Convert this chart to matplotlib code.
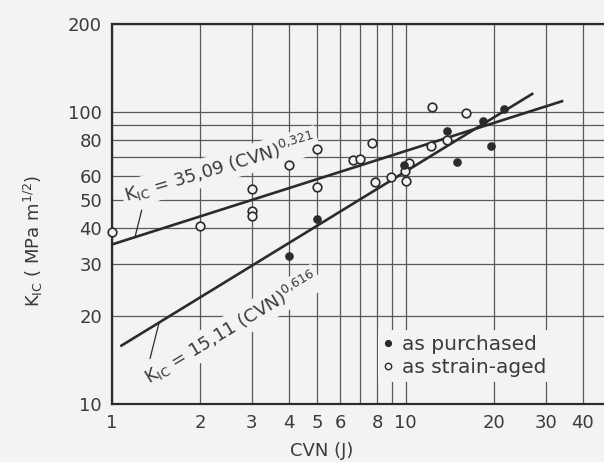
import matplotlib
matplotlib.use("Agg")
import matplotlib.pyplot as plt
from matplotlib.ticker import FixedLocator, NullFormatter, FixedFormatter
from matplotlib.lines import Line2D

# ---------------- data ----------------
purchased_cvn = [4.0, 5.0, 9.85, 13.8, 15.0, 18.3, 19.5, 21.6]
purchased_kic = [32.0, 43.0, 65.8, 86.0, 67.0, 93.0, 76.0, 102.0]

aged_cvn = [1.0, 2.0, 3.0, 3.0, 3.0, 4.0, 5.0, 5.0, 6.6, 7.0, 7.7, 7.9,
            8.9, 9.95, 10.0, 10.3, 12.2, 12.3, 13.8, 16.1]
aged_kic = [38.6, 40.5, 54.4, 45.8, 43.8, 65.4, 74.6, 55.0, 68.4, 69.0, 78.0, 57.6,
            59.7, 62.5, 58.0, 66.6, 76.0, 104.0, 80.0, 99.0]

# fitted straight lines (end points)
fit_aged_cvn = [1.0, 34.4]
fit_aged_kic = [35.09, 108.8]
fit_purch_cvn = [1.07, 27.2]
fit_purch_kic = [15.75, 115.5]

x_ticks = [1, 2, 3, 4, 5, 6, 8, 10, 20, 30, 40]
x_minor = [7, 9]
y_ticks = [10, 20, 30, 40, 50, 60, 80, 100, 200]
y_minor = [70, 90]

eq_aged = r"K$_{\mathregular{IC}}$ = 35,09 (CVN)$^{\mathregular{0{,}321}}$"
eq_purch = r"K$_{\mathregular{IC}}$ = 15,11 (CVN)$^{\mathregular{0{,}616}}$"

# ---------------- style ----------------
BG = "#f3f3f3"
INK = "#2b2b2b"
TXT = "#3a3a3a"
GRID = "#5a5a5a"

plt.rcParams["font.family"] = ["DejaVu Sans"]

fig = plt.figure(figsize=(6.04, 4.62), dpi=100, facecolor=BG)
ax = fig.add_axes([111.7 / 604, 1 - 404 / 462, (611 - 111.7) / 604, (404 - 23.5) / 462])
ax.set_facecolor(BG)
ax.set_xscale("log")
ax.set_yscale("log")
ax.set_xlim(1, 50)
ax.set_ylim(10, 200)

ax.xaxis.set_major_locator(FixedLocator(x_ticks))
ax.xaxis.set_major_formatter(FixedFormatter([str(v) for v in x_ticks]))
ax.xaxis.set_minor_locator(FixedLocator(x_minor))
ax.xaxis.set_minor_formatter(NullFormatter())
ax.yaxis.set_major_locator(FixedLocator(y_ticks))
ax.yaxis.set_major_formatter(FixedFormatter([str(v) for v in y_ticks]))
ax.yaxis.set_minor_locator(FixedLocator(y_minor))
ax.yaxis.set_minor_formatter(NullFormatter())

ax.tick_params(which="both", length=0, labelsize=13, colors=TXT, pad=7)
ax.set_axisbelow(True)
ax.grid(True, which="both", color=GRID, lw=0.9)
for s in ax.spines.values():
    s.set_color(INK)
    s.set_linewidth(1.6)

# fitted lines
ax.plot(fit_aged_cvn, fit_aged_kic, color=INK, lw=1.9, zorder=3, solid_capstyle="butt")
ax.plot(fit_purch_cvn, fit_purch_kic, color=INK, lw=1.9, zorder=3, solid_capstyle="butt")

# data points
ax.plot(aged_cvn, aged_kic, ls="none", marker="o", ms=6.2, mfc=BG, mec=INK, mew=1.2,
        zorder=4, clip_on=False)
ax.plot(purchased_cvn, purchased_kic, ls="none", marker="o", ms=5.2, mfc=INK, mec=INK,
        zorder=4, clip_on=False)

# equations
box = dict(boxstyle="square,pad=0.15", fc=BG, ec="none")
ax.text(1.125, 49.0, eq_aged, rotation=16.5, rotation_mode="anchor", ha="left",
        va="baseline", fontsize=13, color=TXT, bbox=box, zorder=2.5)
ax.text(1.34, 11.6, eq_purch, rotation=31, rotation_mode="anchor", ha="left",
        va="baseline", fontsize=13, color=TXT, bbox=box, zorder=2.5)

# leader lines
ax.annotate("", xy=(1.2, 37.2), xytext=(1.265, 46.0),
            arrowprops=dict(arrowstyle="-", color=INK, lw=0.9, shrinkA=0, shrinkB=0), zorder=3)
ax.annotate("", xy=(1.45, 19.0), xytext=(1.35, 14.3),
            arrowprops=dict(arrowstyle="-", color=INK, lw=0.9, shrinkA=0, shrinkB=0), zorder=3)

# legend
handles = [
    Line2D([], [], ls="none", marker="o", ms=4.2, mfc=INK, mec=INK),
    Line2D([], [], ls="none", marker="o", ms=4.6, mfc=BG, mec=INK, mew=1.0),
]
leg = ax.legend(handles, ["as purchased", "as strain-aged"], loc="upper left",
                bbox_to_anchor=(378 / 604, 1 - 330 / 462), bbox_transform=fig.transFigure,
                fontsize=14.5, frameon=True, fancybox=False, handlelength=0.5,
                handletextpad=0.45, labelspacing=0.2, borderpad=0.25, borderaxespad=0)
leg.get_frame().set_facecolor(BG)
leg.get_frame().set_edgecolor("none")
leg.get_frame().set_alpha(1)
for t in leg.get_texts():
    t.set_color(TXT)

ax.set_xlabel("CVN (J)", fontsize=13, color=TXT, labelpad=6)
ax.xaxis.set_label_coords((322 - 111.7) / 499.3, -0.1, transform=ax.transAxes)
ax.set_ylabel(r"K$_{\mathregular{IC}}$ ( MPa m$^{\mathregular{1/2}}$)", fontsize=13,
              color=TXT)
ax.yaxis.set_label_coords(-0.134, (404 - 241) / 380.5, transform=ax.transAxes)

fig.savefig("out.png", dpi=100, facecolor=BG)
